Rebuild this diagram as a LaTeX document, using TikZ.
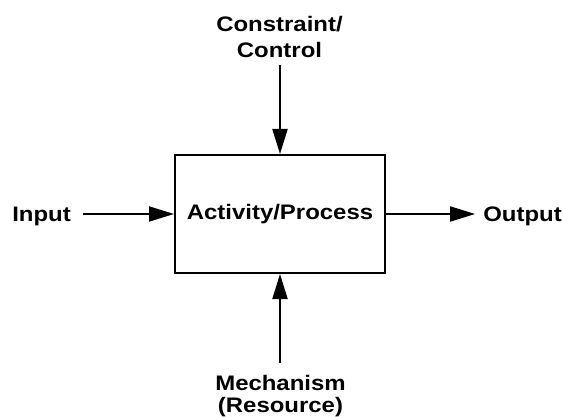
\documentclass[tikz,border=0pt]{standalone}
\usepackage{fontspec}
\setmainfont{Liberation Sans}[FakeStretch=1.14]
\usetikzlibrary{arrows.meta}
\begin{document}
\begin{tikzpicture}[x=1pt,y=-1pt,
  lbl/.style={font=\bfseries\fontsize{21}{26}\selectfont, inner sep=0pt, align=center},
  flow/.style={line width=2pt, -{Triangle[length=25pt,width=15pt]}},
  procbox/.style={draw, line width=2.4pt, minimum width=209.6pt, minimum height=117.6pt,
    inner sep=0pt, font=\bfseries\fontsize{21}{26}\selectfont}]
\useasboundingbox (0,0) rectangle (563,417);

% activity box
\node[procbox] (box) at (280,214) {Activity/Process};

% side labels
\node[lbl, anchor=base] (in)  at (41.5,222)  {Input};
\node[lbl, anchor=base] (out) at (522.5,222) {Output};
\node[lbl, anchor=north] (ctl) at (279.5,16.5) {Constraint/\\Control};
\node[lbl, anchor=north, font=\bfseries\fontsize{21}{22}\selectfont] (mech) at (280.5,375) {Mechanism\\(Resource)};

% ICOM arrows
\draw[flow, shorten <=12pt] (in.east |- box.west) -- (box.west);
\draw[flow, shorten >=8pt] (box.east) -- (out.west |- box.east);
\draw[flow, shorten <=7pt] (box.north |- ctl.south) -- (box.north);
\draw[flow, shorten <=12pt] (box.south |- mech.north) -- (box.south);
\end{tikzpicture}
\end{document}
